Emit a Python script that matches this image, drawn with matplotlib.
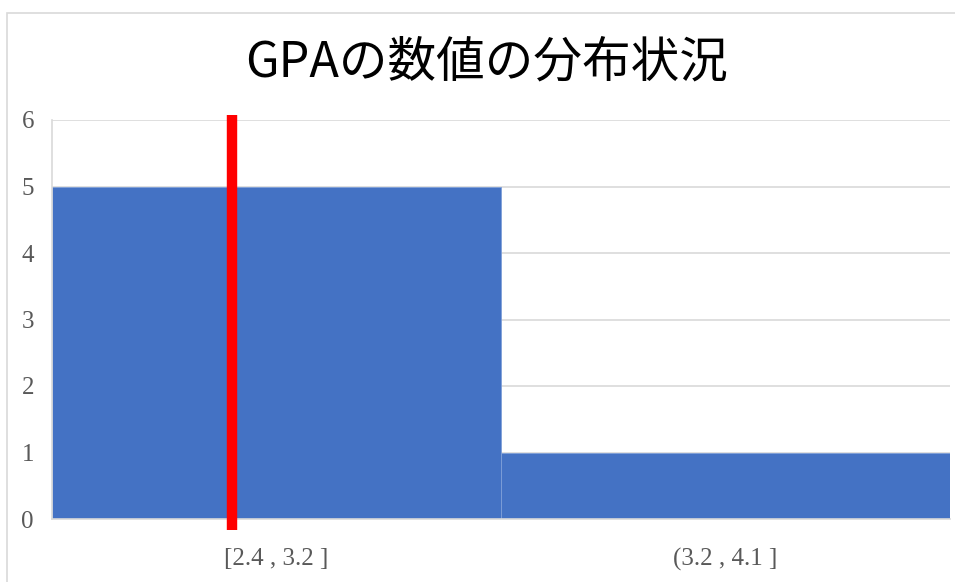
import matplotlib
matplotlib.use("Agg")
import matplotlib.pyplot as plt
from matplotlib.patches import Rectangle

# histogram bins and counts
bins = ["[2.4 , 3.2 ]", "(3.2 , 4.1 ]"]
counts = [5, 1]
y_ticks = [0, 1, 2, 3, 4, 5, 6]
title = "GPAの数値の分布状況"
marker_x = -0.1  # red marker line, in bin coordinates

BAR_COLOR = "#4472C4"
GRID_COLOR = "#d9d9d9"
TEXT_COLOR = "#595959"

fig = plt.figure(figsize=(9.55, 5.82), dpi=100)
ax = fig.add_axes([52 / 955, 1 - 519 / 582, 898 / 955, 399 / 582])

# outer chart frame (screenshot crops the right and bottom)
fig.patches.append(Rectangle((7 / 955, -0.1), 1.2, 1 - 13 / 582 + 0.1,
                             transform=fig.transFigure, fill=False,
                             edgecolor="#d9d9d9", linewidth=1.2))

ax.bar(range(len(bins)), counts, width=1.0, color=BAR_COLOR,
       edgecolor="#7f9fd8", linewidth=0.6, zorder=2)

ax.set_xlim(-0.5, len(bins) - 0.5)
ax.set_ylim(0, 6)
ax.set_yticks(y_ticks)
ax.set_xticks(range(len(bins)))
ax.set_xticklabels(bins)
ax.yaxis.grid(color=GRID_COLOR, linewidth=1.2, zorder=0)
ax.set_axisbelow(True)

for side in ["top", "right"]:
    ax.spines[side].set_visible(False)
ax.spines["left"].set_color(GRID_COLOR)
ax.spines["bottom"].set_color(GRID_COLOR)
ax.spines["left"].set_linewidth(1.2)
ax.spines["bottom"].set_linewidth(1.2)

ax.tick_params(length=0, labelsize=18, colors=TEXT_COLOR)
ax.tick_params(axis="y", pad=13)
ax.tick_params(axis="x", pad=21)
for lab in ax.get_xticklabels() + ax.get_yticklabels():
    lab.set_family(["Liberation Serif", "DejaVu Serif"])

# red marker line sticking out past the plot area
ax.plot([marker_x, marker_x], [-0.17, 6.07], color="#ff0000",
        linewidth=7.5, solid_capstyle="butt", clip_on=False, zorder=3)

fig.text(487 / 955, 1 - 63 / 582, title, ha="center", va="center",
         fontsize=35, family=["Noto Sans CJK JP", "DejaVu Sans"])

fig.savefig("out.png", dpi=100)
